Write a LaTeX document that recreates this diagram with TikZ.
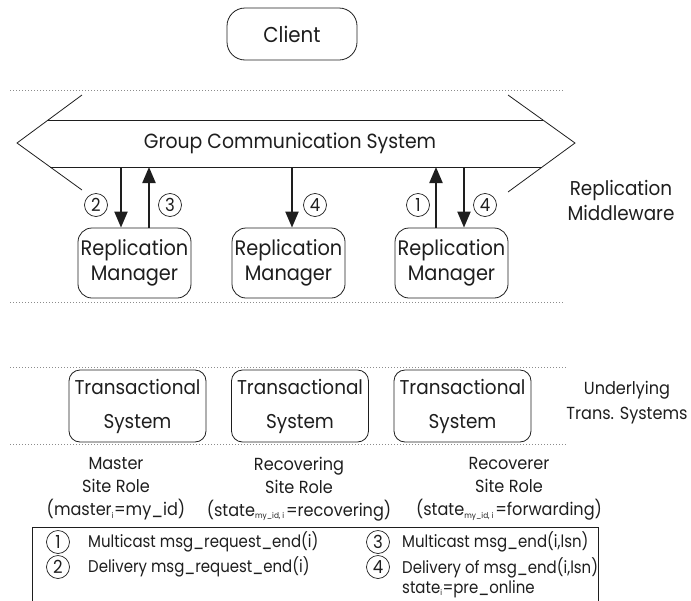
\documentclass[tikz,border=0pt]{standalone}
\usepackage{fontspec}
\setmainfont{Poppins}[FakeStretch=0.92]
\newfontfamily\legfont{Poppins}[FakeStretch=0.88]
\usetikzlibrary{arrows.meta}
\definecolor{ink}{HTML}{1E1E1E}
\definecolor{dotgray}{HTML}{8C8C8C}
\newcommand{\subtxt}[1]{\textsubscript{\fontsize{8}{8}\selectfont #1}}
\begin{document}
\begin{tikzpicture}[x=1pt,y=-1pt,
  txt/.style={text=ink,inner sep=0pt,align=center,font=\fontsize{20}{25}\selectfont},
  small/.style={text=ink,inner sep=0pt,align=center,font=\fontsize{17.5}{23}\selectfont},
  leg/.style={text=ink,inner sep=0pt,align=left,anchor=west,font=\legfont\fontsize{17}{20}\selectfont},
  rmbox/.style={draw=ink,line width=0.8pt,rounded corners=14pt,minimum width=113pt,
    minimum height=70pt,inner sep=0pt,align=center,text=ink,font=\fontsize{21}{25}\selectfont},
  tsbox/.style={rmbox,minimum width=137pt,minimum height=72pt,rounded corners=11pt,
    font=\fontsize{20}{34}\selectfont},
  num/.style={draw=ink,circle,line width=0.7pt,minimum size=23pt,inner sep=0pt,
    text=ink,font=\fontsize{18}{18}\selectfont},
  msg/.style={draw=ink,line width=2.1pt,-{Triangle[length=16pt,width=13pt]}},
  sep/.style={draw=dotgray,line width=0.6pt,dash pattern=on 0.6pt off 2.4pt},
  outline/.style={draw=ink,line width=0.8pt},
]
\useasboundingbox (0,0) rectangle (691,600);

% client
\node[rmbox,minimum width=130pt,minimum height=52pt,rounded corners=18pt,
  font=\fontsize{21.5}{24}\selectfont] (client) at (292,34) {Client};

% layer separators
\coordinate (s1a) at (10,90);  \coordinate (s1b) at (563,90);
\coordinate (s2a) at (10,302); \coordinate (s2b) at (563,302);
\coordinate (s3a) at (10,367); \coordinate (s3b) at (567,367);
\coordinate (s4a) at (10,444); \coordinate (s4b) at (567,444);
\draw[sep] (s1a) -- (s1b);
\draw[sep] (s2a) -- (s2b);
\draw[sep] (s3a) -- (s3b);
\draw[sep] (s4a) -- (s4b);

% group communication system: double-headed arrow outline
\coordinate (gl) at (17,143);  \coordinate (gr) at (575,143);
\coordinate (glt) at (82,95);  \coordinate (glb) at (82,190);
\coordinate (grt) at (508,95); \coordinate (grb) at (508,192);
\coordinate (st1) at (48,120); \coordinate (st2) at (543,120);
\coordinate (sb1) at (50,167); \coordinate (sb2) at (542,167);
\draw[outline] (glt) -- (gl) -- (glb);
\draw[outline] (grt) -- (gr) -- (grb);
\draw[outline] (st1) -- (st2);
\draw[outline] (sb1) -- (sb2);
\node[txt,font=\fontsize{20.5}{25}\selectfont] (gcs) at (290,143) {Group Communication System};

% replication managers
\node[rmbox] (rm1) at (134.5,263) {Replication\\Manager};
\node[rmbox] (rm2) at (288.5,263) {Replication\\Manager};
\node[rmbox] (rm3) at (451.5,263) {Replication\\Manager};

% messages between the managers and the group communication system
\coordinate (g1) at (121,167);
\coordinate (g2) at (149,167);
\coordinate (g3) at (292,167);
\coordinate (g4) at (436,167);
\coordinate (g5) at (464,167);
\draw[msg] (g1) -- (rm1.north -| g1);
\draw[msg] (rm1.north -| g2) -- (g2);
\draw[msg] (g3) -- (rm2.north -| g3);
\draw[msg] (rm3.north -| g4) -- (g4);
\draw[msg] (g5) -- (rm3.north -| g5);
\node[num] (n2a) at (96,205) {2};
\node[num] (n3a) at (170,205) {3};
\node[num] (n4a) at (315,205) {4};
\node[num] (n1a) at (418,205) {1};
\node[num] (n4b) at (485,205) {4};

\node[txt] (mw) at (621,200) {Replication\\Middleware};

% transactional systems
\node[tsbox] (ts1) at (137.5,406) {Transactional\\System};
\node[tsbox] (ts2) at (300,406) {Transactional\\System};
\node[tsbox] (ts3) at (462.5,406) {Transactional\\System};
\node[txt,font=\fontsize{17.5}{25}\selectfont] (uts) at (627,403) {Underlying\\Trans. Systems};

% site roles
\node[small] (role1) at (116,489) {Master\\Site Role\\(master\subtxt{i}=my\_id)};
\node[small] (role2) at (299,489) {Recovering\\Site Role\\(state\subtxt{my\_id, i\,}=recovering)};
\node[small] (role3) at (509,489) {Recoverer\\Site Role\\(state\subtxt{my\_id, i\,}=forwarding)};

% legend
\node[draw=ink,line width=0.8pt,anchor=north west,minimum width=566pt,minimum height=110pt,
  inner sep=0pt] (legend) at (32,527) {};
\node[num] (l1) at (58,542) {1};
\node[num] (l2) at (58,567) {2};
\node[num] (l3) at (378,542) {3};
\node[num] (l4) at (378,567) {4};
\node[leg] (t1) at (88,542) {Multicast msg\_request\_end(i)};
\node[leg] (t2) at (88,567) {Delivery msg\_request\_end(i)};
\node[leg] (t3) at (402,542) {Multicast msg\_end(i,lsn)};
\node[leg,anchor=north west] (t4) at (402,557) {Delivery of msg\_end(i,lsn)\\state\subtxt{i}=pre\_online};
\end{tikzpicture}
\end{document}
